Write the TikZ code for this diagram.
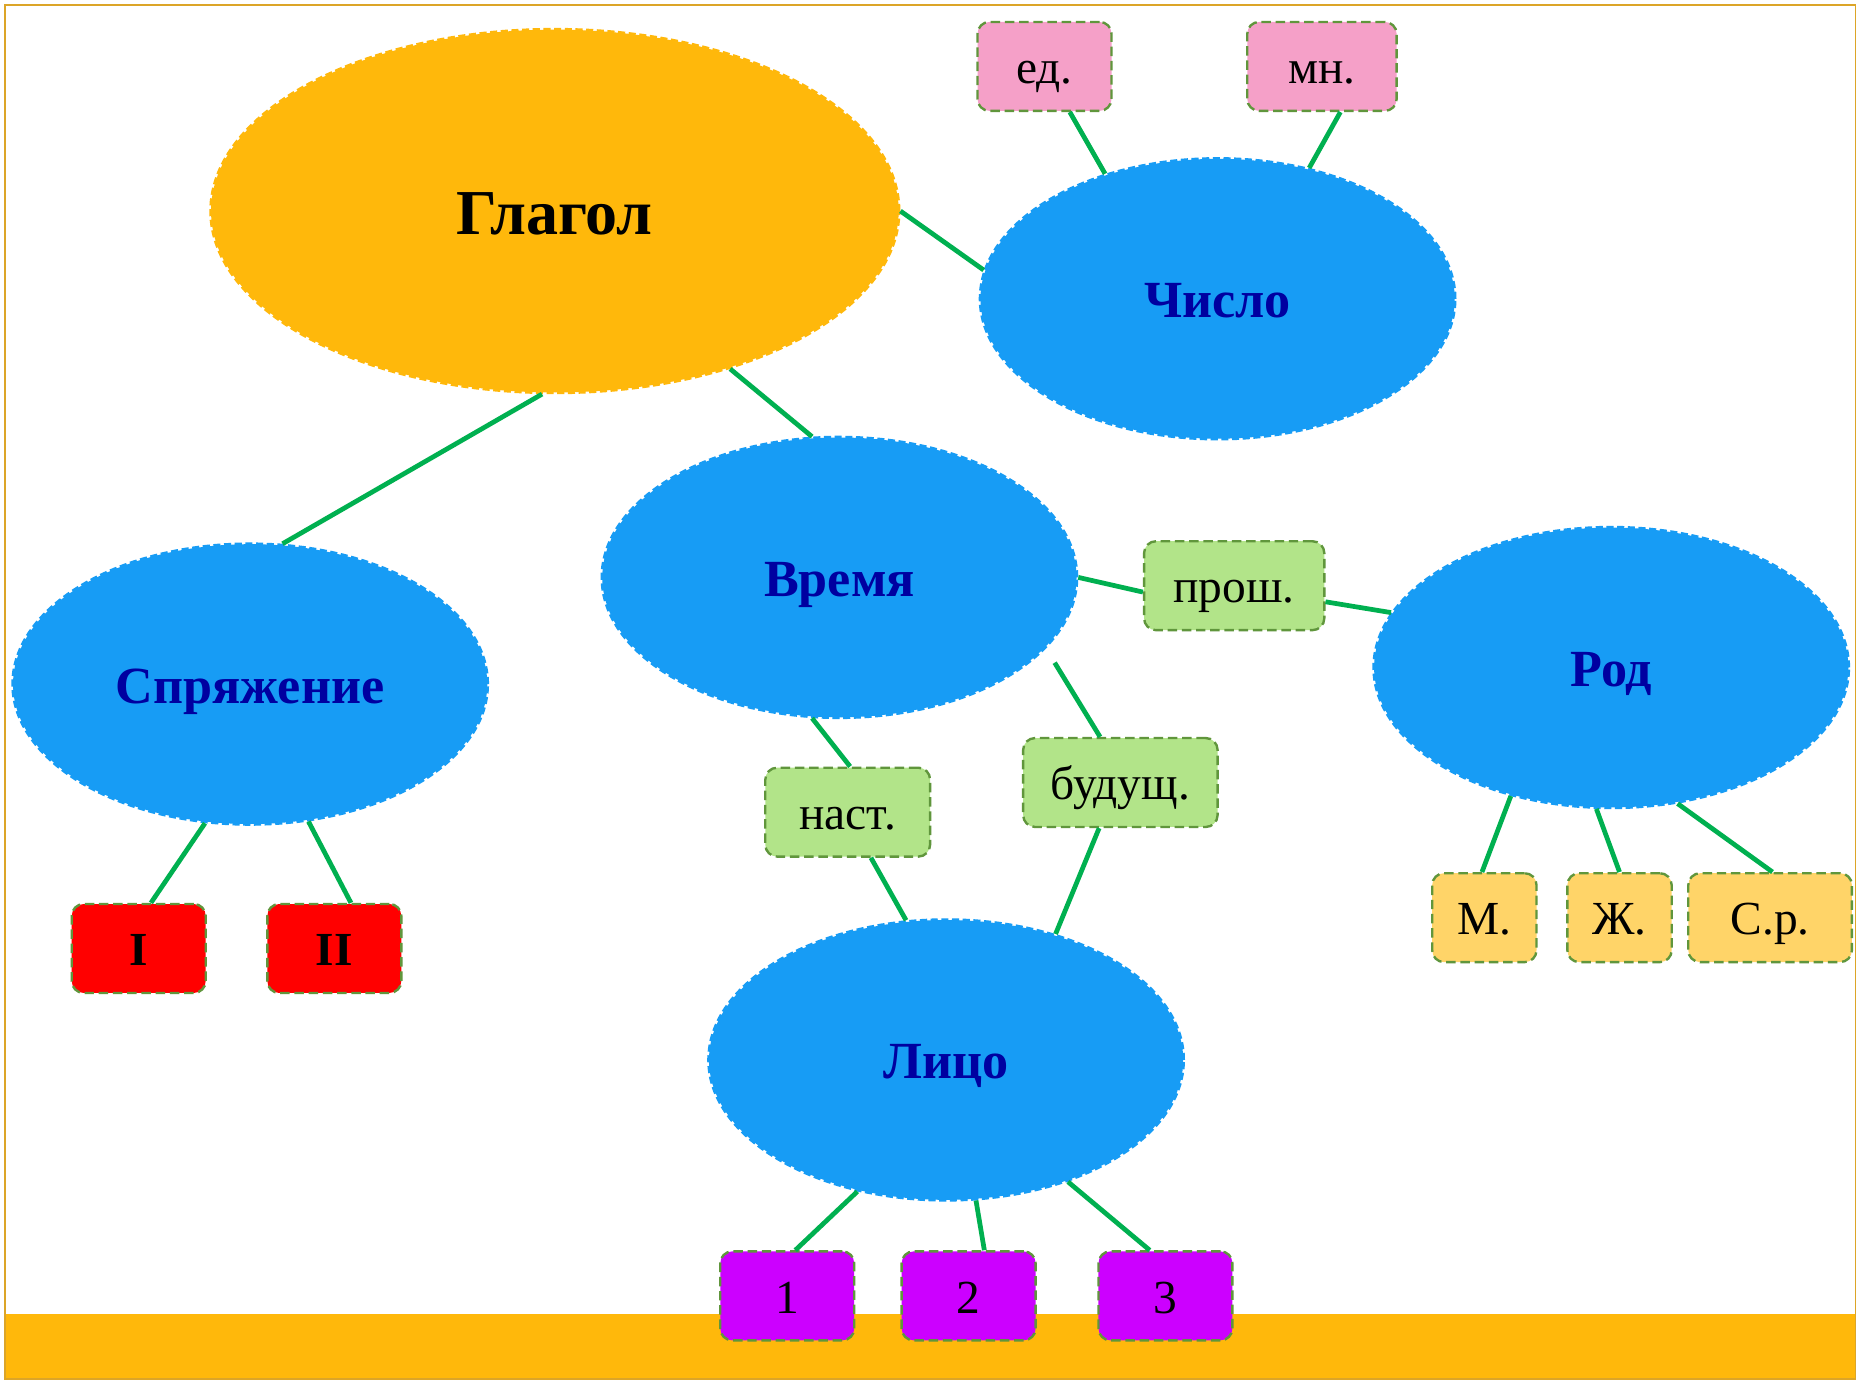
\documentclass[tikz,border=0pt]{standalone}
\usepackage{fontspec}
\setmainfont{Liberation Serif}
\usetikzlibrary{shapes.geometric}
\definecolor{cOrange}{RGB}{255,184,11}
\definecolor{cBlue}{RGB}{23,156,245}
\definecolor{cText}{RGB}{0,0,160}
\definecolor{cLink}{RGB}{0,176,80}
\definecolor{cDash}{RGB}{96,150,60}
\definecolor{cPink}{RGB}{245,160,200}
\definecolor{cLGreen}{RGB}{178,228,137}
\definecolor{cRed}{RGB}{255,0,0}
\definecolor{cPeach}{RGB}{255,212,104}
\definecolor{cPurple}{RGB}{204,0,255}
\definecolor{cFrame}{RGB}{220,165,40}
\begin{document}
\begin{tikzpicture}[x=0.5pt,y=-0.5pt,
  bigell/.style={ellipse, fill=cOrange, draw=cOrange, line width=1.5pt,
    dash pattern=on 3pt off 1.5pt, inner sep=0pt,
    minimum width=290pt, minimum height=153pt,
    text height=20pt, text depth=0pt,
    font=\fontsize{27}{30}\selectfont\bfseries},
  topic/.style={ellipse, fill=cBlue, draw=cBlue, line width=1.5pt,
    dash pattern=on 3pt off 1.5pt, inner sep=0pt,
    minimum width=200pt, minimum height=118pt, text=cText,
    text height=16pt, text depth=0pt,
    font=\fontsize{22}{26}\selectfont\bfseries},
  tag/.style={rectangle, rounded corners=5pt, draw=cDash, line width=1pt,
    dash pattern=on 4pt off 2pt, inner sep=0pt, minimum height=37.5pt,
    text height=14.5pt, text depth=0pt,
    font=\fontsize{20}{24}\selectfont},
  link/.style={draw=cLink, line width=2pt}]
\useasboundingbox (0,0) rectangle (1568,1164);
\fill[white] (0,0) rectangle (1568,1164);
\fill[cOrange] (4,1108) rectangle (1565,1163);
\draw[cFrame, line width=0.8pt] (4,4) rectangle (1565,1163);

% ellipses
\node[bigell] (glagol) at (468,178) {Глагол};
\node[topic] (chislo) at (1027,252) {Число};
\node[topic] (vremya) at (708,487) {Время};
\node[topic] (spr) at (211,577) {Спряжение};
\node[topic] (rod) at (1359,563) {Род};
\node[topic] (lico) at (798,894) {Лицо};

% tags
\node[tag, fill=cPink, minimum width=56.5pt] (ed) at (881,56) {ед.};
\node[tag, fill=cPink, minimum width=63pt] (mn) at (1115,56) {мн.};
\node[tag, fill=cLGreen, minimum width=76pt] (prosh) at (1041,494) {прош.};
\node[tag, fill=cLGreen, minimum width=69.5pt] (nast) at (715,685) {наст.};
\node[tag, fill=cLGreen, minimum width=82pt] (bud) at (945,660) {будущ.};
\node[tag, fill=cRed, minimum width=56.5pt, font=\fontsize{20}{24}\selectfont\bfseries] (one) at (117,800) {I};
\node[tag, fill=cRed, minimum width=56.5pt, font=\fontsize{20}{24}\selectfont\bfseries] (two) at (282,800) {II};
\node[tag, fill=cPeach, minimum width=44pt] (m) at (1252,774) {М.};
\node[tag, fill=cPeach, minimum width=44pt] (zh) at (1366,774) {Ж.};
\node[tag, fill=cPeach, minimum width=69pt] (sr) at (1493,774) {С.р.};
\node[tag, fill=cPurple, minimum width=56.5pt] (p1) at (664,1093) {1};
\node[tag, fill=cPurple, minimum width=56.5pt] (p2) at (817,1093) {2};
\node[tag, fill=cPurple, minimum width=56.5pt] (p3) at (983,1093) {3};

% connectors
\draw[link] (glagol.0) -- (chislo.173);
\draw[link] (glagol.266) -- (spr.77.5);
\draw[link] (glagol.318) -- (vremya.101);
\draw[link] (ed.-61) -- (chislo.132);
\draw[link] (mn.-68) -- (chislo.55);
\draw[link] (vremya.0) -- (prosh.184);
\draw[link] (prosh.-10.4) -- (rod.166.6);
\draw[link] (vremya.259) -- (nast.87);
\draw[link, shorten <=7pt] (vremya.341.3) -- (bud.114);
\draw[link] (nast.297) -- (lico.106.8);
\draw[link] (bud.245) -- (lico.49.7);
\draw[link] (spr.252.7) -- (one.75);
\draw[link] (spr.293.3) -- (two.70);
\draw[link] (rod.232.9) -- (m.93);
\draw[link] (rod.264.9) -- (zh.90);
\draw[link] (rod.296.8) -- (sr.87);
\draw[link] (lico.236) -- (p1.80);
\draw[link] (lico.282.6) -- (p2.71);
\draw[link] (lico.315) -- (p3.109);
\end{tikzpicture}
\end{document}
